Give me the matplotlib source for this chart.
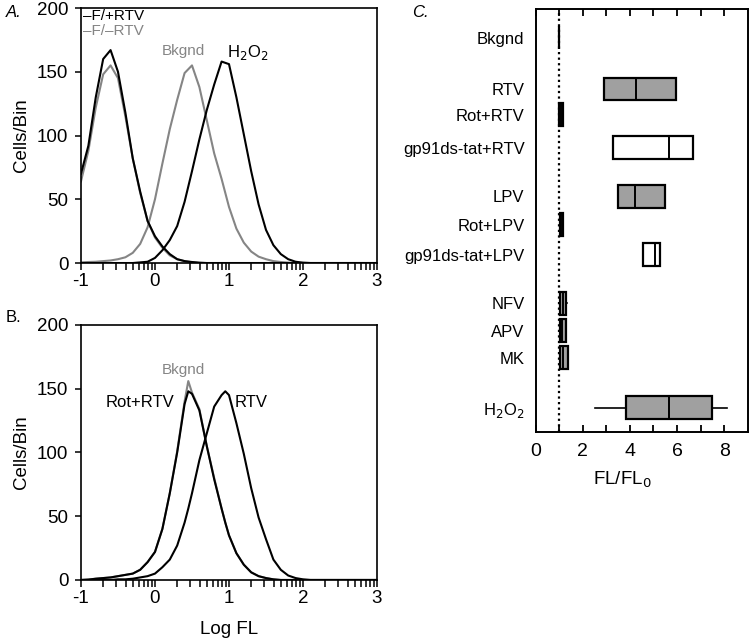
#!/usr/bin/env python3

"""flow cytometry histograms and FL/FL0 box plots"""

import numpy as np
import matplotlib.pyplot as plt
from matplotlib.ticker import FixedLocator

plt.rcParams["font.family"] = ["Liberation Sans", "DejaVu Sans"]
plt.rcParams["axes.unicode_minus"] = False

# panel A histograms (log FL, cells per bin)
a_x = [-1.0, -0.9, -0.8, -0.7, -0.6, -0.5, -0.4, -0.3, -0.2, -0.1, 0.0,
       0.1, 0.2, 0.3, 0.4, 0.5, 0.6, 0.7, 0.8, 0.9, 1.0, 1.1, 1.2, 1.3,
       1.4, 1.5, 1.6, 1.7, 1.8, 1.9, 2.0, 2.1, 2.2, 3.0]
f_plus_rtv = [70, 92, 130, 160, 167, 150, 118, 82, 56, 33, 21,
              13, 7, 3, 1.5, 0.8, 0.3, 0, 0, 0, 0, 0, 0, 0,
              0, 0, 0, 0, 0, 0, 0, 0, 0, 0]
f_minus_rtv = [64, 88, 122, 148, 155, 145, 115, 82, 55, 33, 20,
               12, 6, 3, 1.5, 0.5, 0, 0, 0, 0, 0, 0, 0, 0,
               0, 0, 0, 0, 0, 0, 0, 0, 0, 0]
bkgnd_a = [0.5, 0.8, 1, 1.5, 2, 3, 4.5, 8, 15, 28, 50,
           78, 105, 128, 149, 155, 138, 112, 86, 66, 44, 27, 16, 9,
           5, 3, 1.5, 0.8, 0.3, 0, 0, 0, 0, 0]
h2o2_a = [0, 0, 0, 0, 0, 0, 0, 0, 0.5, 1, 4,
          10, 18, 29, 48, 72, 97, 120, 140, 158, 156, 130, 101, 72,
          46, 26, 14, 7, 3, 1, 0.3, 0, 0, 0]

# panel B histograms
b_x = [-1.0, -0.9, -0.8, -0.7, -0.6, -0.5, -0.4, -0.3, -0.2, -0.1, 0.0,
       0.1, 0.2, 0.3, 0.4, 0.45, 0.5, 0.6, 0.7, 0.8, 0.9, 0.95, 1.0, 1.1,
       1.2, 1.3, 1.4, 1.5, 1.6, 1.7, 1.8, 1.9, 2.0, 2.1, 3.0]
rot_rtv_b = [0, 0.3, 1, 1.5, 2, 3, 4, 5, 8, 14, 22,
             40, 68, 100, 138, 148, 146, 133, 105, 79, 56, 45, 35, 21,
             12, 6, 3, 1.5, 0.5, 0, 0, 0, 0, 0, 0]
bkgnd_b = [0, 0.3, 1, 1.5, 2, 3, 4, 5, 8, 14, 22,
           40, 68, 101, 140, 156, 147, 134, 105, 80, 56, 45, 35, 21,
           12, 6, 3, 1.5, 0.5, 0, 0, 0, 0, 0, 0]
rtv_b = [0, 0, 0, 0, 0, 0.5, 0.5, 1, 2, 3, 5,
         10, 16, 27, 45, 56, 68, 94, 115, 136, 145, 148, 145, 123,
         99, 72, 49, 32, 16, 8, 3.5, 1.5, 0.5, 0, 0]

# panel C box plots (FL/FL0)
conditions = ["Bkgnd", "RTV", "Rot+RTV", "gp91ds-tat+RTV", "LPV", "Rot+LPV",
              "gp91ds-tat+LPV", "NFV", "APV", "MK", "H$_2$O$_2$"]
q1 = [1.0, 2.92, 1.0, 3.29, 3.49, 1.04, 4.55, 1.05, 1.05, 1.05, 3.84]
median = [1.0, 4.27, 1.08, 5.66, 4.20, 1.10, 5.08, 1.15, 1.12, 1.15, 5.66]
q3 = [1.0, 5.94, 1.15, 6.66, 5.47, 1.18, 5.29, 1.29, 1.27, 1.37, 7.49]
whisker_lo = [1.0, 2.92, 1.0, 3.29, 3.49, 1.04, 4.55, 1.05, 1.05, 1.05, 2.52]
whisker_hi = [1.0, 5.94, 1.15, 6.66, 5.47, 1.18, 5.29, 1.35, 1.27, 1.37, 8.13]
fills = ["#a0a0a0", "#a0a0a0", "#a0a0a0", "white", "#a0a0a0", "#a0a0a0",
         "white", "#a0a0a0", "#a0a0a0", "#a0a0a0", "#a0a0a0"]
row_pos = [0, 1.8, 2.7, 3.85, 5.55, 6.55, 7.6, 9.3, 10.25, 11.2, 12.95]

GREY = "#858585"


def style_hist(ax):
    ax.set_xlim(-1, 3)
    ax.set_ylim(0, 200)
    ax.set_yticks(range(0, 201, 50))
    ax.set_xticks([-1, 0, 1, 2, 3])
    minors = [d + np.log10(k) for d in range(-1, 3) for k in range(2, 10)]
    ax.xaxis.set_minor_locator(FixedLocator(minors))
    ax.tick_params(axis="x", which="both", direction="out", length=5,
                   width=1.1, labelsize=13.5, pad=2)
    ax.tick_params(axis="y", direction="out", length=4, width=1.1,
                   labelsize=13.5, pad=5)
    for s in ax.spines.values():
        s.set_linewidth(1.2)
    ax.set_ylabel("Cells/Bin", fontsize=13.5)
    ax.yaxis.set_label_coords(-0.172, 0.5)


fig = plt.figure(figsize=(7.56, 6.42), dpi=100)

# A
ax_a = fig.add_axes([0.1071, 0.5903, 0.3916, 0.3972])
ax_a.plot(a_x, f_minus_rtv, color=GREY, lw=1.5)
ax_a.plot(a_x, bkgnd_a, color=GREY, lw=1.5)
ax_a.plot(a_x, f_plus_rtv, color="black", lw=1.5)
ax_a.plot(a_x, h2o2_a, color="black", lw=1.5)
style_hist(ax_a)
ax_a.text(-0.97, 194, "–F/+RTV", fontsize=11, va="center", ha="left")
ax_a.text(-0.97, 182, "–F/–RTV", fontsize=11, va="center", ha="left",
          color=GREY)
ax_a.text(0.38, 166, "Bkgnd", fontsize=11, va="center", ha="center",
          color=GREY)
ax_a.text(1.25, 165, "H$_2$O$_2$", fontsize=12, va="center", ha="center")

# B
ax_b = fig.add_axes([0.1071, 0.0966, 0.3916, 0.3972])
ax_b.plot(b_x, bkgnd_b, color=GREY, lw=1.5)
ax_b.plot(b_x, rot_rtv_b, color="black", lw=1.5)
ax_b.plot(b_x, rtv_b, color="black", lw=1.5)
style_hist(ax_b)
ax_b.set_xlabel("Log FL", fontsize=13.5)
ax_b.xaxis.set_label_coords(0.5, -0.16)
ax_b.text(0.38, 165, "Bkgnd", fontsize=11, va="center", ha="center",
          color=GREY)
ax_b.text(0.26, 139, "Rot+RTV", fontsize=12, va="center", ha="right")
ax_b.text(1.08, 139, "RTV", fontsize=12, va="center", ha="left")

# C
ax_c = fig.add_axes([0.7086, 0.3271, 0.2804, 0.6589])
stats = []
for i in range(len(conditions)):
    stats.append({"q1": q1[i], "med": median[i], "q3": q3[i],
                  "whislo": whisker_lo[i], "whishi": whisker_hi[i],
                  "fliers": [], "label": conditions[i]})
bp = ax_c.bxp(stats, positions=row_pos, widths=0.8, vert=False,
              patch_artist=True, showcaps=False,
              boxprops=dict(linewidth=1.6, edgecolor="black"),
              medianprops=dict(color="black", linewidth=1.4),
              whiskerprops=dict(color="black", linewidth=1.2))
for patch, c in zip(bp["boxes"], fills):
    patch.set_facecolor(c)
ax_c.axvline(1, color="black", lw=1.6, ls=(0, (1, 1.5)), zorder=0)
ax_c.set_xlim(0, 9)
ax_c.set_ylim(13.8, -1.0)
ax_c.set_yticks(row_pos)
ax_c.set_yticklabels(conditions)
ax_c.tick_params(axis="y", length=0, labelsize=12, pad=8)
ax_c.set_xticks([0, 2, 4, 6, 8])
ax_c.xaxis.set_minor_locator(FixedLocator([1, 3, 5, 7]))
ax_c.tick_params(axis="x", which="both", direction="in", length=5,
                 width=1.3, top=True, labelsize=14, pad=8)
for s in ax_c.spines.values():
    s.set_linewidth(1.4)
ax_c.set_xlabel("FL/FL$_0$", fontsize=13.5)
ax_c.xaxis.set_label_coords(0.41, -0.09)

fig.text(0.008, 0.981, "A.", fontsize=12, style="italic", va="center")
fig.text(0.008, 0.505, "B.", fontsize=12, va="center")
fig.text(0.545, 0.981, "C.", fontsize=12, style="italic", va="center")

fig.savefig("out.png", dpi=100)
